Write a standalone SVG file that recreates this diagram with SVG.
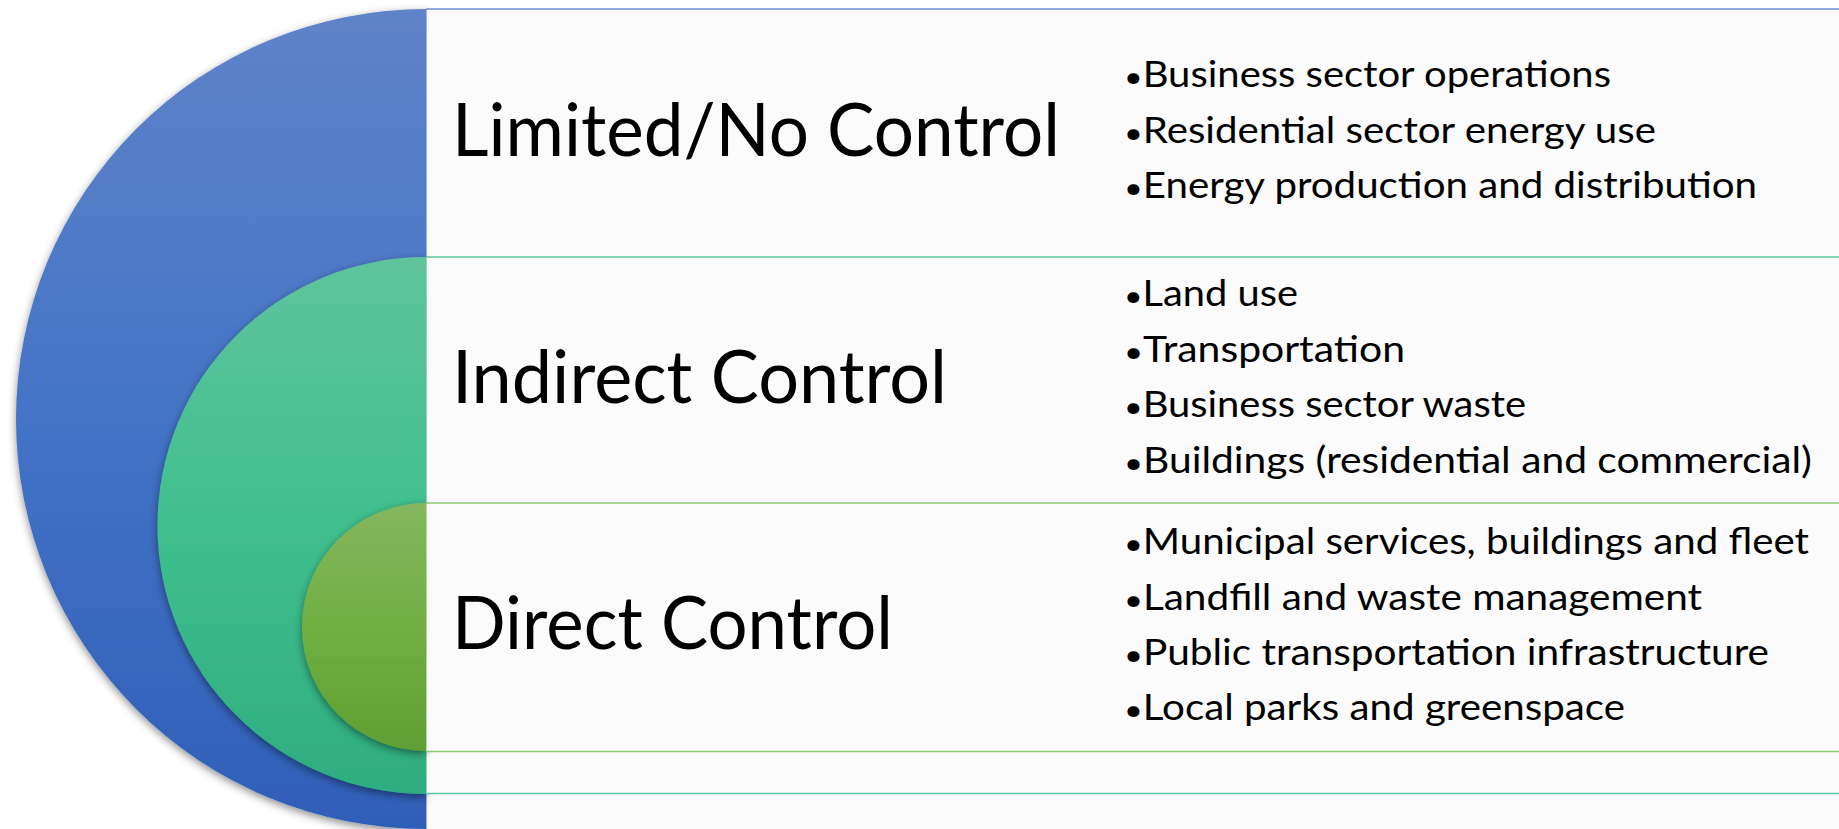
<svg xmlns="http://www.w3.org/2000/svg" width="1839" height="829" viewBox="0 0 1839 829">
<style>
.head{font-family:Lato,"Liberation Sans",sans-serif;font-size:73px;fill:#000}
.item{font-family:Lato,"Liberation Sans",sans-serif;font-size:36px;fill:#000}
.b{font-size:29px}
.panel{fill:#fbfbfb}
</style>
<defs>
<linearGradient id="gBlue" x1="0" y1="0" x2="0" y2="1">
<stop offset="0" stop-color="#5f83c9"/><stop offset="0.5" stop-color="#4473c6"/><stop offset="1" stop-color="#2f5fb8"/>
</linearGradient>
<linearGradient id="gTeal" x1="0" y1="0" x2="0" y2="1">
<stop offset="0" stop-color="#5fc49b"/><stop offset="0.5" stop-color="#40bf8e"/><stop offset="1" stop-color="#2ead80"/>
</linearGradient>
<linearGradient id="gGreen" x1="0" y1="0" x2="0" y2="1">
<stop offset="0" stop-color="#84b65f"/><stop offset="0.5" stop-color="#70af42"/><stop offset="1" stop-color="#5f9f33"/>
</linearGradient>
<filter id="shadow" x="-10%" y="-10%" width="120%" height="125%">
<feDropShadow dx="0" dy="3" stdDeviation="4" flood-color="#000" flood-opacity="0.45"/>
</filter>
</defs>
<rect width="1839" height="829" fill="#ffffff"/>

<g id="node-limited">
<path d="M426,9 A410,410 0 0 0 426,829 Z" fill="url(#gBlue)" filter="url(#shadow)"/>
<rect class="panel" x="426.5" y="9" width="1413" height="820"/>
<line x1="426.5" y1="9" x2="426.5" y2="829" stroke="#9bb2e2" stroke-width="1"/>
<line x1="426" y1="9" x2="1839" y2="9" stroke="#6f8fd6" stroke-width="1.6"/>
<text class="head" x="452" y="156" textLength="608" lengthAdjust="spacingAndGlyphs">Limited/No Control</text>
<text class="item" x="1124" y="87" textLength="487" lengthAdjust="spacingAndGlyphs"><tspan class="b">•</tspan>Business sector operations</text>
<text class="item" x="1124" y="142.5" textLength="532" lengthAdjust="spacingAndGlyphs"><tspan class="b">•</tspan>Residential  sector energy use</text>
<text class="item" x="1124" y="198" textLength="633" lengthAdjust="spacingAndGlyphs"><tspan class="b">•</tspan>Energy production and distribution</text>
</g>

<g id="node-indirect">
<path d="M426,257 A268.5,268.5 0 0 0 426,794 Z" fill="url(#gTeal)" filter="url(#shadow)"/>
<rect class="panel" x="426.5" y="257" width="1413" height="537"/>
<line x1="426.5" y1="257" x2="426.5" y2="794" stroke="#8fd6b8" stroke-width="1"/>
<line x1="426" y1="257" x2="1839" y2="257" stroke="#5fc79d" stroke-width="1.6"/>
<line x1="426" y1="793.5" x2="1839" y2="793.5" stroke="#5fc79d" stroke-width="1.6"/>
<text class="head" x="452" y="403" textLength="495" lengthAdjust="spacingAndGlyphs">Indirect Control</text>
<text class="item" x="1124" y="306" textLength="174" lengthAdjust="spacingAndGlyphs"><tspan class="b">•</tspan>Land use</text>
<text class="item" x="1124" y="361.5" textLength="281" lengthAdjust="spacingAndGlyphs"><tspan class="b">•</tspan>Transportation</text>
<text class="item" x="1124" y="417" textLength="402" lengthAdjust="spacingAndGlyphs"><tspan class="b">•</tspan>Business sector waste</text>
<text class="item" x="1124" y="472.5" textLength="688" lengthAdjust="spacingAndGlyphs"><tspan class="b">•</tspan>Buildings (residential  and commercial)</text>
</g>

<g id="node-direct">
<path d="M426,503 A124,124 0 0 0 426,751 Z" fill="url(#gGreen)" filter="url(#shadow)"/>
<rect class="panel" x="426.5" y="503" width="1413" height="248"/>
<line x1="426.5" y1="503" x2="426.5" y2="751" stroke="#b5dba0" stroke-width="1"/>
<line x1="426" y1="503" x2="1839" y2="503" stroke="#8ec66d" stroke-width="1.6"/>
<line x1="426" y1="751.5" x2="1839" y2="751.5" stroke="#8ec66d" stroke-width="1.6"/>
<text class="head" x="452" y="648.5" textLength="441" lengthAdjust="spacingAndGlyphs">Direct Control</text>
<text class="item" x="1124" y="554" textLength="685" lengthAdjust="spacingAndGlyphs"><tspan class="b">•</tspan>Municipal services, buildings and fleet</text>
<text class="item" x="1124" y="609.5" textLength="578" lengthAdjust="spacingAndGlyphs"><tspan class="b">•</tspan>Landfill and waste management</text>
<text class="item" x="1124" y="665" textLength="645" lengthAdjust="spacingAndGlyphs"><tspan class="b">•</tspan>Public transportation infrastructure</text>
<text class="item" x="1124" y="720" textLength="501" lengthAdjust="spacingAndGlyphs"><tspan class="b">•</tspan>Local parks and greenspace</text>
</g>

<g id="connectors"></g>
</svg>
